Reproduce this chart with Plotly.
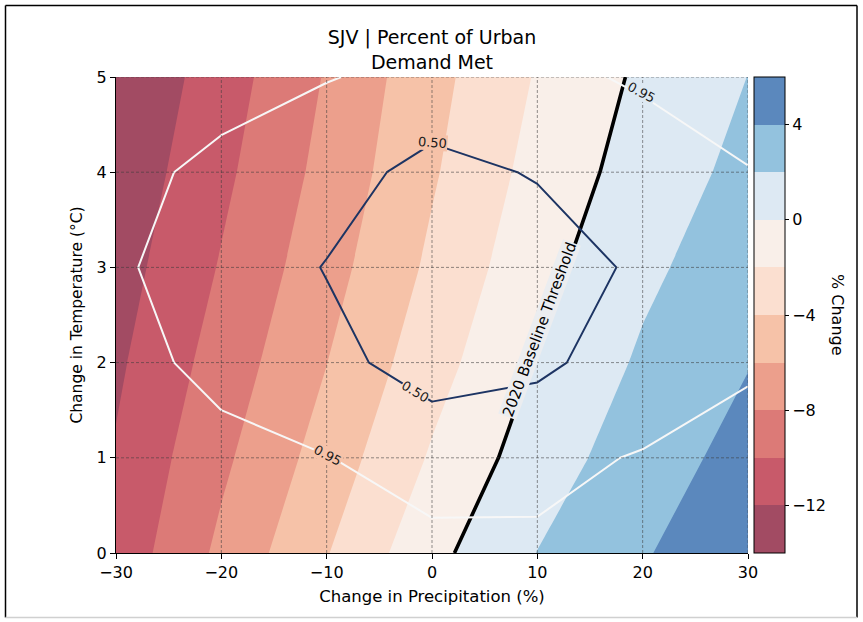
import plotly.graph_objects as go

# ---------------- data ----------------
precip = [-30, -20, -10, 0, 10, 20, 30]          # Change in Precipitation (%)
temp = [0, 1, 2, 3, 4, 5]                         # Change in Temperature (°C)

# % change in urban demand met (rows = temp, cols = precip)
pct_change = [
    [-11.30, -7.56, -4.10, -0.55, 2.03, 3.82, 5.60],
    [-11.81, -8.40, -5.14, -1.78, 1.04, 3.02, 4.71],
    [-12.34, -9.16, -6.03, -2.80, 0.15, 2.28, 3.92],
    [-12.88, -9.85, -6.77, -3.62, -0.62, 1.58, 3.20],
    [-13.43, -10.45, -7.38, -4.22, -1.29, 0.88, 2.57],
    [-13.95, -10.97, -7.84, -4.63, -1.84, 0.36, 2.02],
]

# reliability metric drawn as iso-lines (rows = temp, cols = precip)
reliability = [
    [1.100, 1.080, 1.060, 1.045, 0.993, 1.050, 1.120],
    [1.050, 1.020, 0.960, 0.788, 0.880, 0.969, 1.040],
    [1.036, 0.880, 0.634, 0.300, 0.400, 0.757, 0.920],
    [0.990, 0.800, 0.480, 0.200, 0.250, 0.583, 0.850],
    [1.036, 0.880, 0.700, 0.350, 0.535, 0.642, 0.931],
    [1.080, 1.060, 0.966, 0.850, 0.800, 1.027, 1.200],
]

fill_levels = [-14, -12, -10, -8, -6, -4, -2, 0, 2, 4, 6]
band_colors = ["#a24b63", "#c85a6a", "#dc7a77", "#ec9f8c", "#f6c2a8",
               "#fbdfd0", "#f9efe9", "#dde9f3", "#93c2de", "#5b88bd"]
cbar_ticks = [-12, -8, -4, 0, 4]
threshold_level = 0
threshold_label = "2020 Baseline Threshold"
iso_levels = [0.50, 0.95]
iso_colors = ["#1d3463", "#f7f7f7"]
# inline labels of the iso-lines: (text, x, y, angle, background band colour)
iso_labels = [
    ("0.50", 0.0, 4.31, 4, "#f6c2a8"),
    ("0.50", -1.6, 1.70, 31, "#fbdfd0"),
    ("0.95", -9.9, 1.02, 28, "#f6c2a8"),
    ("0.95", 19.9, 4.84, 28, "#dde9f3"),
]

FONT = "DejaVu Sans"
W, H = 863, 622
ML, MR, MT, MB = 116, 115, 77, 69
PW, PH = W - ML - MR, H - MT - MB

# ---------------- colour scales ----------------
start, end = fill_levels[0], fill_levels[-1]
step = fill_levels[1] - fill_levels[0]
nlev = len(fill_levels)
dom_lo = start - step / 2
dom_hi = dom_lo + nlev * step  # plotly fill colormap domain
fill_scale = [[0.0, band_colors[0]]]
for i, c in enumerate(band_colors):
    mid = fill_levels[i] + step / 2
    fill_scale.append([(mid - dom_lo) / (dom_hi - dom_lo), c])
fill_scale.append([1.0, band_colors[-1]])

cb_scale = []
nb = len(band_colors)
for i, c in enumerate(band_colors):
    cb_scale.append([i / nb, c])
    cb_scale.append([(i + 1) / nb, c])

fig = go.Figure()

fig.add_trace(go.Contour(
    x=precip, y=temp, z=pct_change,
    autocontour=False,
    contours=dict(start=start, end=end, size=step, coloring="fill", showlines=False),
    colorscale=fill_scale, showscale=False,
    line=dict(width=0, smoothing=0), hoverinfo="skip",
))

fig.add_trace(go.Contour(
    x=precip, y=temp, z=pct_change,
    autocontour=False,
    contours=dict(start=threshold_level, end=threshold_level + 0.5, size=1, coloring="lines"),
    colorscale=[[0, "black"], [1, "black"]], showscale=False,
    line=dict(width=3.6, smoothing=0), hoverinfo="skip",
))

for lev, col in zip(iso_levels, iso_colors):
    fig.add_trace(go.Contour(
        x=precip, y=temp, z=reliability,
        autocontour=False,
        contours=dict(start=lev, end=lev + 0.01, size=1, coloring="lines", showlabels=False),
        colorscale=[[0, col], [1, col]], showscale=False,
        line=dict(width=2, smoothing=0), hoverinfo="skip",
    ))

# colour bar (legend of the filled levels)
fig.add_trace(go.Scatter(
    x=[None, None], y=[None, None], mode="markers", hoverinfo="skip", showlegend=False,
    marker=dict(color=[start, end], cmin=start, cmax=end, colorscale=cb_scale,
                showscale=True,
                colorbar=dict(x=(754 - ML) / PW, xanchor="left", xpad=0,
                              y=0.5, yanchor="middle", ypad=0, len=1, lenmode="fraction",
                              thickness=31, outlinewidth=1, outlinecolor="black",
                              tickvals=cbar_ticks, ticks="outside", ticklen=4,
                              tickwidth=1, tickcolor="black",
                              tickfont=dict(family=FONT, size=16, color="black"))),
))

# dashed grid above the fills
shapes = []
grid_line = dict(color="rgba(60,60,60,0.7)", width=0.8, dash="3px,2px")
for xv in precip[1:]:
    shapes.append(dict(type="line", xref="x", yref="paper", x0=xv, x1=xv, y0=0, y1=1,
                       line=grid_line, layer="above"))
for yv in temp[1:]:
    shapes.append(dict(type="line", xref="paper", yref="y", x0=0, x1=1, y0=yv, y1=yv,
                       line=grid_line, layer="above"))

# outer frame of the picture
def px2x(p):
    return (p - ML) / PW

def py2y(p):
    return 1 - (p - MT) / PH

frame = dict(color="black", width=1.5)
shapes += [
    dict(type="line", xref="paper", yref="paper", x0=px2x(5.5), x1=px2x(5.5), y0=py2y(5.5), y1=py2y(617.5), line=frame),
    dict(type="line", xref="paper", yref="paper", x0=px2x(5.5), x1=px2x(857), y0=py2y(5.5), y1=py2y(5.5), line=frame),
    dict(type="line", xref="paper", yref="paper", x0=px2x(857), x1=px2x(857), y0=py2y(5.5), y1=py2y(617.5), line=frame),
    dict(type="line", xref="paper", yref="paper", x0=px2x(5.5), x1=px2x(857), y0=py2y(617.5), y1=py2y(617.5),
         line=dict(color="#d0d0d0", width=1.5)),
]

annotations = [
    dict(text=threshold_label, x=10.25, y=2.35, xref="x", yref="y",
         xanchor="center", yanchor="middle",
         showarrow=False, textangle=-69.6, font=dict(family=FONT, size=15, color="black"),
         bgcolor="rgba(235,237,240,1)", borderpad=0),
    dict(text="% Change", x=px2x(838), y=0.5, xref="paper", yref="paper",
         xanchor="center", yanchor="middle",
         showarrow=False, textangle=90, font=dict(family=FONT, size=16, color="black")),
]
for txt, lx, ly, ang, bg in iso_labels:
    annotations.append(dict(text=txt, x=lx, y=ly, xref="x", yref="y",
                            xanchor="center", yanchor="middle", showarrow=False,
                            textangle=ang, bgcolor=bg, borderpad=0,
                            font=dict(family=FONT, size=13, color="#1a1a1a")))

axis_common = dict(ticks="outside", ticklen=5, tickwidth=1.3, tickcolor="black",
                   showline=True, linecolor="black", linewidth=1.3, mirror=False,
                   showgrid=False, zeroline=False,
                   tickfont=dict(family=FONT, size=16, color="black"))

fig.update_layout(
    width=W, height=H,
    margin=dict(l=ML, r=MR, t=MT, b=MB),
    paper_bgcolor="white", plot_bgcolor="white",
    font=dict(family=FONT, color="black"),
    title=dict(text="SJV | Percent of Urban<br>Demand Met", x=0.5, xref="paper",
               y=1 - 44 / H, yref="container", yanchor="middle", xanchor="center",
               font=dict(family=FONT, size=19, color="black")),
    xaxis=dict(range=[precip[0], precip[-1]], tickvals=precip,
               title=dict(text="Change in Precipitation (%)", font=dict(family=FONT, size=16.5), standoff=9),
               **axis_common),
    yaxis=dict(range=[temp[0], temp[-1]], tickvals=temp,
               title=dict(text="Change in Temperature (°C)", font=dict(family=FONT, size=15.5), standoff=10),
               **axis_common),
    shapes=shapes,
    annotations=annotations,
    showlegend=False,
)

fig.write_html("out.html")
